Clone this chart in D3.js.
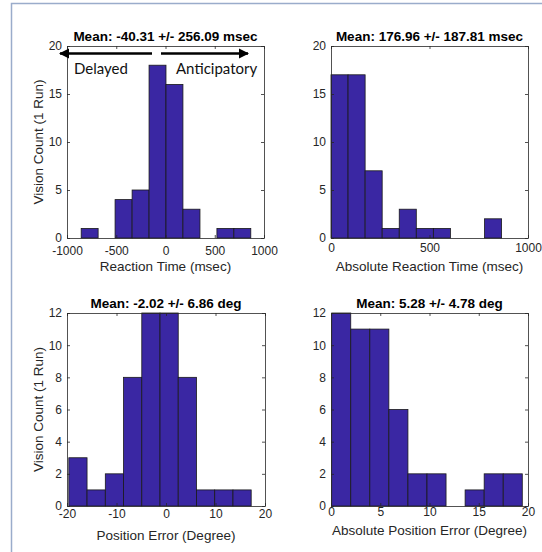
<!DOCTYPE html>
<html>
<head>
<meta charset="utf-8">
<script src="https://cdn.jsdelivr.net/npm/d3@7"></script>
<style>
  html, body { margin: 0; padding: 0; background: #fff; }
  svg { display: block; }
</style>
</head>
<body>
<svg id="fig" width="542" height="552"></svg>
<script>
// Histogram bin edges and counts for each panel
const rtEdges = [-856, -684, -512, -339, -167, 5, 177, 350, 522, 694, 866];
const rtCounts = [1, 0, 4, 5, 18, 16, 3, 0, 1, 1];

const absRtEdges = [0, 86.6, 173.2, 259.8, 346.4, 433, 519.6, 606.2, 692.8, 779.4, 866];
const absRtCounts = [17, 17, 7, 1, 3, 1, 1, 0, 0, 2];

const posEdges = [-19.63, -15.95, -12.26, -8.58, -4.89, -1.21, 2.47, 6.16, 9.84, 13.53, 17.21];
const posCounts = [3, 1, 2, 8, 12, 12, 8, 1, 1, 1];

const absPosEdges = [0.07, 2.005, 3.94, 5.875, 7.81, 9.745, 11.68, 13.615, 15.55, 17.485, 19.42];
const absPosCounts = [12, 11, 11, 6, 2, 2, 0, 1, 2, 2];

// Axis ticks
const rtTicks = [-1000, -500, 0, 500, 1000];
const absRtTicks = [0, 500, 1000];
const posTicks = [-20, -10, 0, 10, 20];
const absPosTicks = [0, 5, 10, 15, 20];
const countTicks20 = [0, 5, 10, 15, 20];
const countTicks12 = [0, 2, 4, 6, 8, 10, 12];

// Titles and labels
const titles = [
  "Mean: -40.31 +/- 256.09 msec",
  "Mean: 176.96 +/- 187.81 msec",
  "Mean: -2.02 +/- 6.86 deg",
  "Mean: 5.28 +/- 4.78 deg"
];
const xLabels = [
  "Reaction Time (msec)",
  "Absolute Reaction Time (msec)",
  "Position Error (Degree)",
  "Absolute Position Error (Degree)"
];
const yLabel = "Vision Count (1 Run)";

const BAR = "#3a27a3";
const AX = "#262626";
const FONT = "'Liberation Sans', Arial, Helvetica, sans-serif";
const fmt = d => String(d);

const svg = d3.select("#fig");

// light frame around the figure
svg.append("rect")
  .attr("x", 11.5).attr("y", 3.5)
  .attr("width", 560).attr("height", 560)
  .attr("fill", "none")
  .attr("stroke", "#9aaccb")
  .attr("stroke-width", 1.5);

// box = [left, right, top, bottom]; tickPad / labelGap place the x tick labels and x label
const panels = [
  { box: [67, 264, 46, 238], xd: [-1000, 1000], yd: [0, 20], xt: rtTicks, yt: countTicks20,
    edges: rtEdges, counts: rtCounts, ylab: true, tickPad: 8.5, labelGap: 33 },
  { box: [331, 528, 46, 238], xd: [0, 1000], yd: [0, 20], xt: absRtTicks, yt: countTicks20,
    edges: absRtEdges, counts: absRtCounts, ylab: false, tickPad: 5.5, labelGap: 33 },
  { box: [67, 265, 313, 506], xd: [-20, 20], yd: [0, 12], xt: posTicks, yt: countTicks12,
    edges: posEdges, counts: posCounts, ylab: true, tickPad: 3.5, labelGap: 34 },
  { box: [331, 528, 313, 506], xd: [0, 20], yd: [0, 12], xt: absPosTicks, yt: countTicks12,
    edges: absPosEdges, counts: absPosCounts, ylab: false, tickPad: 1, labelGap: 28.5 }
];

panels.forEach((p, i) => {
  const [x0, x1, y0, y1] = p.box;
  const x = d3.scaleLinear().domain(p.xd).range([x0, x1]);
  const y = d3.scaleLinear().domain(p.yd).range([y1, y0]);
  const g = svg.append("g");

  // bars
  const bins = p.counts.map((c, k) => ({ lo: p.edges[k], hi: p.edges[k + 1], c }));
  g.selectAll("rect.bar").data(bins.filter(b => b.c > 0)).join("rect")
    .attr("class", "bar")
    .attr("x", d => x(d.lo))
    .attr("width", d => x(d.hi) - x(d.lo))
    .attr("y", d => y(d.c))
    .attr("height", d => y(0) - y(d.c))
    .attr("fill", BAR)
    .attr("stroke", "#1a1a1a")
    .attr("stroke-width", 0.8);

  // axes with inward ticks on all four sides
  const tk = 3;
  const bottom = g.append("g").attr("transform", `translate(0,${y1})`)
    .call(d3.axisBottom(x).tickValues(p.xt).tickSizeInner(-tk).tickSizeOuter(0).tickPadding(p.tickPad).tickFormat(fmt));
  const top = g.append("g").attr("transform", `translate(0,${y0})`)
    .call(d3.axisTop(x).tickValues(p.xt).tickSizeInner(-tk).tickSizeOuter(0).tickFormat(""));
  const left = g.append("g").attr("transform", `translate(${x0},0)`)
    .call(d3.axisLeft(y).tickValues(p.yt).tickSizeInner(-tk).tickSizeOuter(0).tickPadding(5).tickFormat(fmt));
  const right = g.append("g").attr("transform", `translate(${x1},0)`)
    .call(d3.axisRight(y).tickValues(p.yt).tickSizeInner(-tk).tickSizeOuter(0).tickFormat(""));

  [bottom, top, left, right].forEach(a => {
    a.select(".domain").attr("stroke", AX).attr("stroke-width", 0.8);
    a.selectAll(".tick line").attr("stroke", AX).attr("stroke-width", 0.8);
    a.selectAll("text").attr("fill", AX).style("font-family", FONT).style("font-size", "12px");
  });

  // title
  g.append("text")
    .attr("x", (x0 + x1) / 2).attr("y", y0 - 5)
    .attr("text-anchor", "middle")
    .style("font-family", FONT).style("font-size", "13.5px").style("font-weight", "bold")
    .attr("fill", "#000")
    .text(titles[i]);

  // x label
  g.append("text")
    .attr("x", (x0 + x1) / 2).attr("y", y1 + p.labelGap)
    .attr("text-anchor", "middle")
    .style("font-family", FONT).style("font-size", "13.5px")
    .attr("fill", AX)
    .text(xLabels[i]);

  if (p.ylab) {
    g.append("text")
      .attr("transform", `translate(${x0 - 24},${(y0 + y1) / 2}) rotate(-90)`)
      .attr("text-anchor", "middle")
      .style("font-family", FONT).style("font-size", "13.5px")
      .attr("fill", AX)
      .text(yLabel);
  }
});

// direction annotations above the reaction-time histogram
const defs = svg.append("defs");
defs.append("marker")
  .attr("id", "head").attr("viewBox", "0 0 10 10")
  .attr("refX", 9).attr("refY", 5)
  .attr("markerWidth", 4).attr("markerHeight", 4)
  .attr("markerUnits", "strokeWidth")
  .attr("orient", "auto")
  .append("path").attr("d", "M0,0 L10,5 L0,10 Z").attr("fill", "#000");

svg.append("line")
  .attr("x1", 152).attr("y1", 53.5).attr("x2", 60).attr("y2", 53.5)
  .attr("stroke", "#000").attr("stroke-width", 2.6)
  .attr("marker-end", "url(#head)");
svg.append("line")
  .attr("x1", 161).attr("y1", 53.5).attr("x2", 248).attr("y2", 53.5)
  .attr("stroke", "#000").attr("stroke-width", 2.6)
  .attr("marker-end", "url(#head)");

svg.append("text")
  .attr("x", 74).attr("y", 74)
  .style("font-family", "Lato, 'Open Sans', sans-serif").style("font-size", "15px")
  .attr("fill", "#111")
  .text("Delayed");
svg.append("text")
  .attr("x", 176).attr("y", 74)
  .style("font-family", "Lato, 'Open Sans', sans-serif").style("font-size", "15px")
  .attr("fill", "#111")
  .text("Anticipatory");
</script>
</body>
</html>
